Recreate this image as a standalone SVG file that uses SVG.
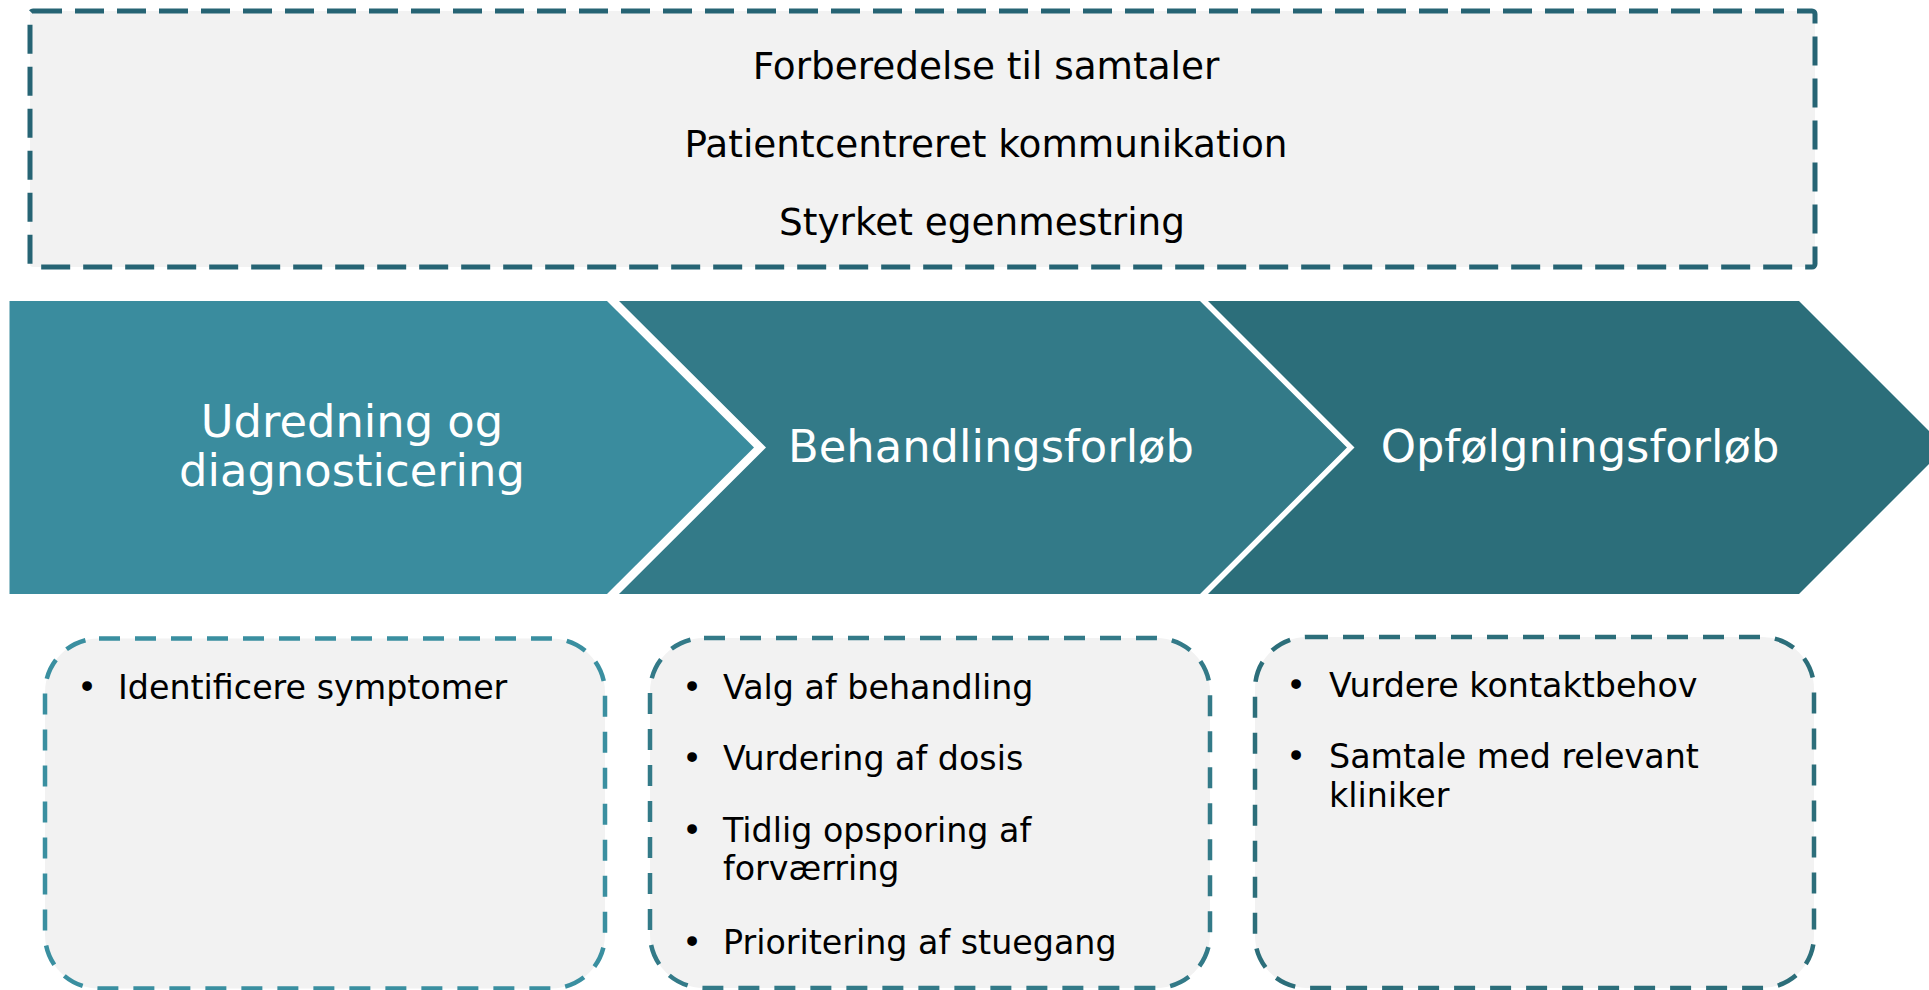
<svg xmlns="http://www.w3.org/2000/svg" width="1929" height="990" viewBox="0 0 1929 990">
<style>
.bg{fill:#FFFFFF}
.topbox{fill:#F2F2F2;stroke:#266474;stroke-width:5;stroke-dasharray:29 13}
.card{fill:#F2F2F2;stroke-width:4.5;stroke-dasharray:21 15}
.t{font-family:"DejaVu Sans","Verdana",sans-serif;fill:#000000}
.top{font-size:37.4px;text-anchor:middle}
.chev{font-family:"DejaVu Sans","Verdana",sans-serif;font-size:44.8px;fill:#FFFFFF;text-anchor:middle}
.item{font-size:33.3px}
.bul{font-size:33.3px;text-anchor:middle}
</style>
<rect class="bg" x="0" y="0" width="1929" height="990"/>

<g id="top-box">
<rect class="topbox" x="30" y="11" width="1785" height="256" rx="3"/>
<text class="t top" x="986" y="79">Forberedelse til samtaler</text>
<text class="t top" x="986" y="157">Patientcentreret kommunikation</text>
<text class="t top" x="982" y="235">Styrket egenmestring</text>
</g>

<g id="chevron-1">
<polygon points="9.5,301 607,301 754,447.5 607,594 9.5,594" fill="#3A8C9E"/>
<text class="chev" x="352" y="437">Udredning og</text>
<text class="chev" x="352" y="486">diagnosticering</text>
</g>

<g id="chevron-2">
<polygon points="619,301 1200,301 1347,447.5 1200,594 619,594 766,447.5" fill="#337A88"/>
<text class="chev" x="991" y="462">Behandlingsforløb</text>
</g>

<g id="chevron-3">
<polygon points="1208,301 1799,301 1945.5,447.5 1799,594 1208,594 1354.5,447.5" fill="#2C6E7A"/>
<text class="chev" x="1580" y="462">Opfølgningsforløb</text>
</g>

<g id="card-1">
<rect class="card" x="45" y="638.5" width="560" height="350" rx="54" stroke="#3A8FA0"/>
<text class="t bul" x="87" y="699">•</text>
<text class="t item" x="118" y="699">Identificere symptomer</text>
</g>

<g id="card-2">
<rect class="card" x="650" y="638" width="560" height="350" rx="54" stroke="#337A88"/>
<text class="t bul" x="692" y="699">•</text>
<text class="t item" x="723" y="699">Valg af behandling</text>
<text class="t bul" x="692" y="770">•</text>
<text class="t item" x="723" y="770">Vurdering af dosis</text>
<text class="t bul" x="692" y="842">•</text>
<text class="t item" x="723" y="842">Tidlig opsporing af</text>
<text class="t item" x="723" y="880">forværring</text>
<text class="t bul" x="692" y="954">•</text>
<text class="t item" x="723" y="954">Prioritering af stuegang</text>
</g>

<g id="card-3">
<rect class="card" x="1255" y="637" width="559" height="351" rx="52" stroke="#2C6E7A"/>
<text class="t bul" x="1296" y="697">•</text>
<text class="t item" x="1329" y="697">Vurdere kontaktbehov</text>
<text class="t bul" x="1296" y="768">•</text>
<text class="t item" x="1329" y="768">Samtale med relevant</text>
<text class="t item" x="1329" y="807">kliniker</text>
</g>

<g id="connectors"></g>
</svg>
